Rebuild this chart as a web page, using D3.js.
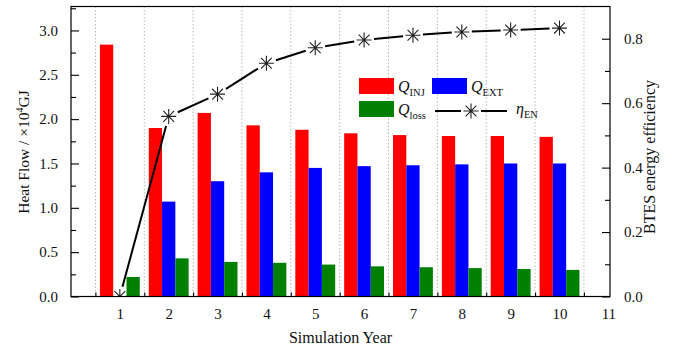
<!DOCTYPE html>
<html>
<head>
<meta charset="utf-8">
<script src="https://cdn.jsdelivr.net/npm/d3@7"></script>
<style>
  html, body { margin: 0; padding: 0; background: #fff; }
  svg { display: block; }
  text { font-family: "Liberation Serif", "Times New Roman", serif; fill: #111; }
</style>
</head>
<body>
<svg id="chart" width="673" height="352"></svg>
<script>
// Simulation years
const years = [1, 2, 3, 4, 5, 6, 7, 8, 9, 10];
// Heat flows (×10^4 GJ)
const qInj  = [2.84, 1.90, 2.07, 1.93, 1.88, 1.84, 1.82, 1.81, 1.81, 1.80];
const qExt  = [0.00, 1.07, 1.30, 1.40, 1.45, 1.47, 1.48, 1.49, 1.50, 1.50];
const qLoss = [0.22, 0.43, 0.39, 0.38, 0.36, 0.34, 0.33, 0.32, 0.31, 0.30];
// BTES energy efficiency
const etaEN = [0.00, 0.559, 0.628, 0.724, 0.772, 0.796, 0.811, 0.821, 0.827, 0.833];
// Axis ticks
const xTickLabels = [1, 2, 3, 4, 5, 6, 7, 8, 9, 10, 11];
const xGridTicks = [0.5, 1.5, 2.5, 3.5, 4.5, 5.5, 6.5, 7.5, 8.5, 9.5, 10.5];
const leftMajor = [0.0, 0.5, 1.0, 1.5, 2.0, 2.5, 3.0];
const leftMinor = [0.25, 0.75, 1.25, 1.75, 2.25, 2.75, 3.25];
const rightMajor = [0.0, 0.2, 0.4, 0.6, 0.8];
const rightMinor = [0.1, 0.3, 0.5, 0.7];

const SERIF = "'Liberation Serif', 'Times New Roman', serif";
const svg = d3.select("#chart");
const L = 71, R = 610, T = 6.5, B = 296.5;

const x = d3.scaleLinear().domain([0, 11]).range([L, L + 11 * 48.85]);
const yL = d3.scaleLinear().domain([0, 3.27]).range([B, T]);
const yR = d3.scaleLinear().domain([0, 0.9]).range([B, T]);

svg.append("clipPath").attr("id", "plotClip")
  .append("rect").attr("x", L).attr("y", T).attr("width", R - L).attr("height", B - T);

// dotted vertical grid
svg.append("g").selectAll("line").data(xGridTicks).join("line")
  .attr("x1", d => x(d)).attr("x2", d => x(d))
  .attr("y1", T).attr("y2", B)
  .attr("stroke", "#b8b8b8").attr("stroke-width", 1).attr("stroke-dasharray", "1.5,2");

// bars
const bw = 0.272;
const series = [
  { key: "inj", vals: qInj, color: "#ff0000", off: -1 },
  { key: "ext", vals: qExt, color: "#0000ff", off: 0 },
  { key: "loss", vals: qLoss, color: "#008000", off: 1 }
];
const barG = svg.append("g");
series.forEach(s => {
  barG.selectAll(null).data(years.map((yr, i) => ({ yr, v: s.vals[i] }))).join("rect")
    .attr("x", d => x(d.yr + s.off * bw - bw / 2))
    .attr("width", x(bw) - x(0))
    .attr("y", d => yL(d.v))
    .attr("height", d => yL(0) - yL(d.v))
    .attr("fill", s.color);
});

// efficiency line, with gaps around each marker
const pts = years.map((yr, i) => [x(yr), yR(etaEN[i])]);
const gap = 10;
const lineG = svg.append("g").attr("clip-path", "url(#plotClip)");
for (let i = 0; i < pts.length - 1; i++) {
  const [x1, y1] = pts[i], [x2, y2] = pts[i + 1];
  const dx = x2 - x1, dy = y2 - y1, len = Math.hypot(dx, dy);
  const ux = dx / len, uy = dy / len;
  lineG.append("line")
    .attr("x1", x1 + ux * gap).attr("y1", y1 + uy * gap)
    .attr("x2", x2 - ux * gap).attr("y2", y2 - uy * gap)
    .attr("stroke", "#000").attr("stroke-width", 2);
}
function star(g, cx, cy, r) {
  const d = r * 0.72;
  const p = `M${cx - r},${cy}H${cx + r}M${cx},${cy - r}V${cy + r}` +
            `M${cx - d},${cy - d}L${cx + d},${cy + d}M${cx - d},${cy + d}L${cx + d},${cy - d}`;
  g.append("path").attr("d", p).attr("stroke", "#222").attr("stroke-width", 1.1).attr("fill", "none");
}
pts.forEach(([px, py]) => star(lineG, px, py, 7.5));

// frame
svg.append("rect").attr("x", L).attr("y", T).attr("width", R - L).attr("height", B - T)
  .attr("fill", "none").attr("stroke", "#000").attr("stroke-width", 1.2);

function styleAxis(g) {
  g.attr("font-family", SERIF).attr("font-size", 15);
  g.select(".domain").remove();
  g.selectAll("text").attr("font-size", 15).style("font-family", SERIF).attr("fill", "#111");
  g.selectAll("line").attr("stroke", "#000").attr("stroke-width", 1.1);
}

// left axis
svg.append("g").attr("transform", `translate(${L},0)`)
  .call(d3.axisLeft(yL).tickValues(leftMajor).tickFormat(d3.format(".1f")).tickSizeInner(-8).tickSizeOuter(0).tickPadding(13))
  .call(styleAxis);
svg.append("g").attr("transform", `translate(${L},0)`)
  .call(d3.axisLeft(yL).tickValues(leftMinor.filter(v => v < 3.27)).tickFormat("").tickSizeInner(-5).tickSizeOuter(0))
  .call(styleAxis);

// right axis
svg.append("g").attr("transform", `translate(${R},0)`)
  .call(d3.axisRight(yR).tickValues(rightMajor).tickFormat(d3.format(".1f")).tickSizeInner(-8).tickSizeOuter(0).tickPadding(14))
  .call(styleAxis);
svg.append("g").attr("transform", `translate(${R},0)`)
  .call(d3.axisRight(yR).tickValues(rightMinor).tickFormat("").tickSizeInner(-5).tickSizeOuter(0))
  .call(styleAxis);

// bottom axis: labels at integers, ticks at half-years
svg.append("g").attr("transform", `translate(0,${B})`)
  .call(d3.axisBottom(x).tickValues(xTickLabels).tickFormat(d3.format("d")).tickSize(0).tickPadding(12))
  .call(styleAxis);
svg.append("g").attr("transform", `translate(0,${B})`)
  .call(d3.axisBottom(x).tickValues(xGridTicks).tickFormat("").tickSizeInner(-4).tickSizeOuter(0))
  .call(styleAxis);

// axis titles
svg.append("text").attr("x", (L + R) / 2).attr("y", 343).attr("text-anchor", "middle")
  .attr("font-size", 16).text("Simulation Year");

const lt = svg.append("text").attr("transform", `translate(29,152) rotate(-90)`)
  .attr("text-anchor", "middle").attr("font-size", 15.5);
lt.append("tspan").text("Heat Flow / \u00d710");
lt.append("tspan").attr("font-size", 10).attr("dy", -6).text("4");
lt.append("tspan").attr("dy", 6).text("GJ");

svg.append("text").attr("transform", `translate(655,157) rotate(-90)`)
  .attr("text-anchor", "middle").attr("font-size", 16).text("BTES energy efficiency");

// legend
const lg = svg.append("g");
function subLabel(gx, gy, main, sub) {
  const t = lg.append("text").attr("x", gx).attr("y", gy).attr("font-size", 16);
  t.append("tspan").attr("font-style", "italic").text(main);
  t.append("tspan").attr("font-size", 10.5).attr("dy", 4).text(sub);
}
lg.append("rect").attr("x", 359).attr("y", 78).attr("width", 35).attr("height", 16).attr("fill", "#ff0000");
subLabel(398, 92, "Q", "INJ");
lg.append("rect").attr("x", 432).attr("y", 78).attr("width", 35).attr("height", 16).attr("fill", "#0000ff");
subLabel(471, 92, "Q", "EXT");
lg.append("rect").attr("x", 359).attr("y", 101).attr("width", 35).attr("height", 16).attr("fill", "#008000");
subLabel(398, 115, "Q", "loss");
lg.append("line").attr("x1", 435).attr("x2", 461).attr("y1", 111).attr("y2", 111).attr("stroke", "#000").attr("stroke-width", 2);
lg.append("line").attr("x1", 481).attr("x2", 507).attr("y1", 111).attr("y2", 111).attr("stroke", "#000").attr("stroke-width", 2);
star(lg, 471, 111, 7.5);
subLabel(516, 114, "\u03b7", "EN");
</script>
</body>
</html>
